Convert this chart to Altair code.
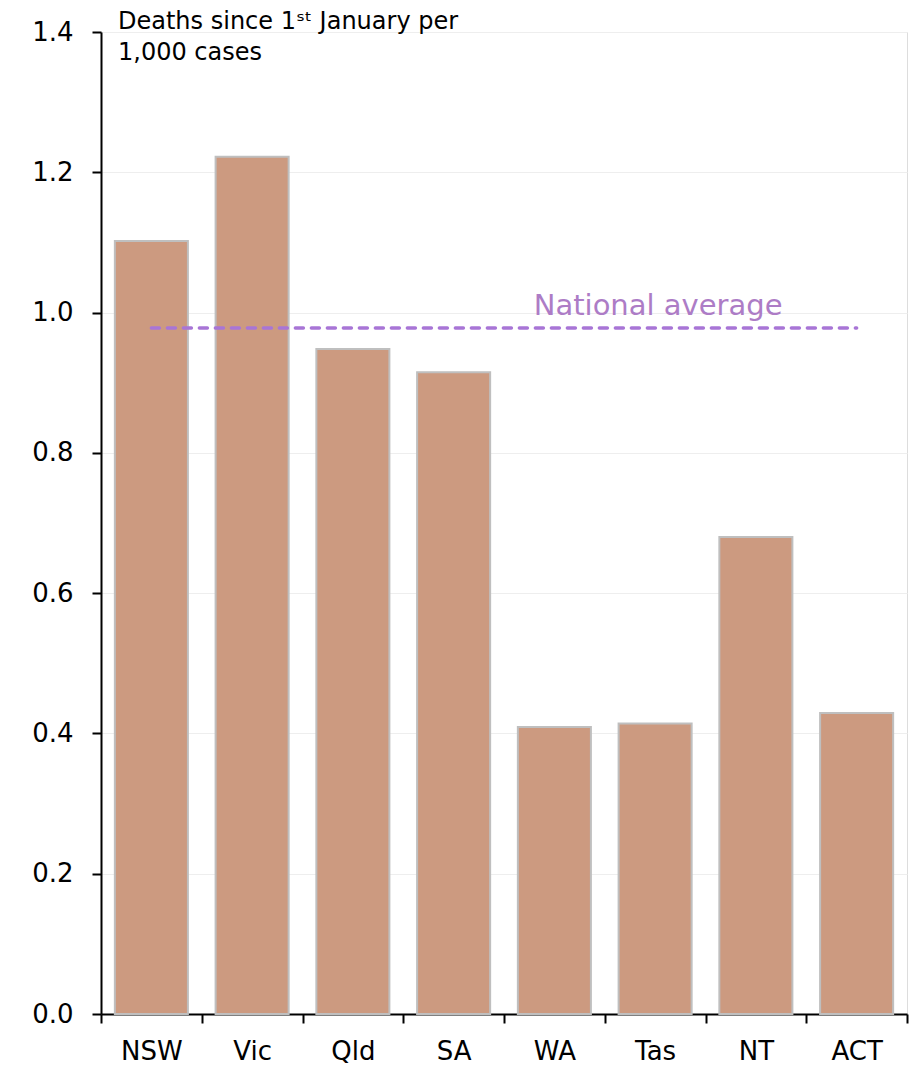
import altair as alt
import pandas as pd

states = ["NSW", "Vic", "Qld", "SA", "WA", "Tas", "NT", "ACT"]
deaths_per_1000 = [1.102, 1.222, 0.948, 0.915, 0.409, 0.414, 0.680, 0.429]
national_average = 0.978
y_ticks = [0.0, 0.2, 0.4, 0.6, 0.8, 1.0, 1.2, 1.4]
title_lines = ["Deaths since 1\u02e2\u1d57   January per", "1,000 cases"]
avg_label = "National average"

FONT = "DejaVu Sans"

bars_df = pd.DataFrame({"state": states, "value": deaths_per_1000})
avg_df = pd.DataFrame({"start": [states[0]], "end": [states[-1]], "avg": [national_average],
                       "label_pos": ["Tas"], "label": [avg_label]})

x_scale = alt.Scale(domain=states, paddingInner=0, paddingOuter=0)
y_scale = alt.Scale(domain=[0, 1.4], nice=False)

x_axis = alt.Axis(title=None, labelAngle=0, tickBand="extent", tickSize=9, tickWidth=2,
                  tickColor="#000000", domainColor="#000000", domainWidth=2,
                  labelFontSize=26, labelColor="#000000", labelPadding=15, labelFont=FONT,
                  grid=False)
y_axis = alt.Axis(title=None, values=y_ticks, format=".1f", tickSize=9, tickWidth=2,
                  tickColor="#000000", domainColor="#000000", domainWidth=2,
                  labelFontSize=26, labelColor="#000000", labelPadding=19, labelFont=FONT,
                  grid=True, gridColor="#EEEEEE", gridWidth=1)

bars = alt.Chart(bars_df).mark_bar(fill="#CC9A80", stroke="#BFBFBF", strokeWidth=2,
                                   width=alt.RelativeBandSize(0.725)).encode(
    x=alt.X("state:N", scale=x_scale, axis=x_axis, sort=states),
    y=alt.Y("value:Q", scale=y_scale, axis=y_axis),
)

avg_rule = alt.Chart(avg_df).mark_rule(color="#A875D6", strokeWidth=3.5, strokeDash=[8, 8],
                                        strokeCap="round").encode(
    x=alt.X("start:N", sort=states),
    x2="end:N",
    y="avg:Q",
)

avg_text = alt.Chart(avg_df).mark_text(font=FONT, fontSize=29, color="#AD7CC6", align="center",
                                        baseline="alphabetic", dy=-13, dx=3).encode(
    x=alt.X("label_pos:N", sort=states),
    y="avg:Q",
    text="label:N",
)

title_text = alt.Chart(pd.DataFrame({"k": [0]})).mark_text(
    text=title_lines, font=FONT, fontSize=24, color="#000000", align="left",
    baseline="alphabetic", lineHeight=31,
).encode(x=alt.value(17), y=alt.value(-3))

chart = alt.layer(bars, avg_rule, avg_text, title_text).properties(
    width=806, height=982,
    autosize=alt.AutoSizeParams(type="none"),
    padding={"left": 93, "top": 24, "right": 6, "bottom": 51},
).configure_view(stroke=None).configure(font=FONT)

chart.save("out.html", embed_options={"renderer": "svg", "actions": False})
